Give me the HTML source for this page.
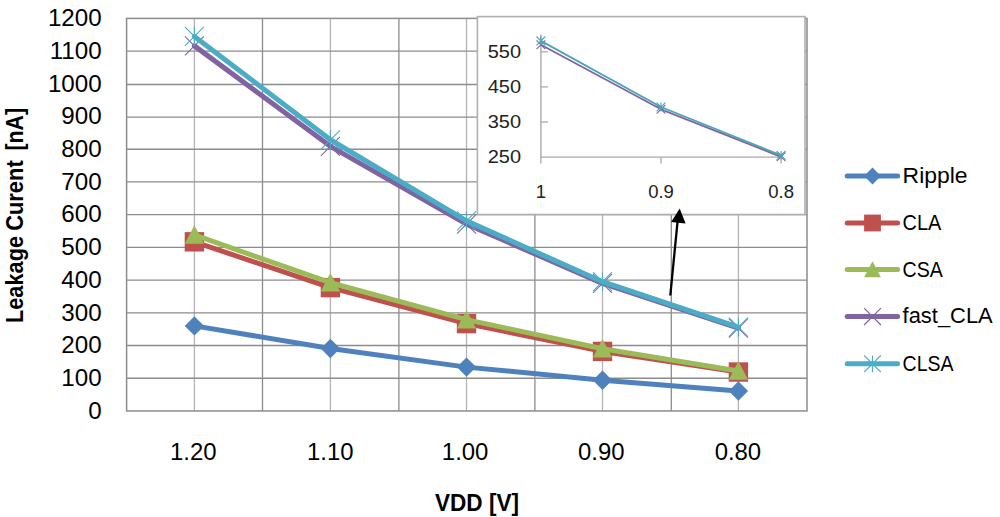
<!DOCTYPE html><html><head><meta charset="utf-8"><style>html,body{margin:0;padding:0;background:#fff;}svg{display:block;}text{font-family:"Liberation Sans",sans-serif;}</style></head><body>
<svg width="1000" height="517" viewBox="0 0 1000 517">
<rect width="1000" height="517" fill="#fff"/>
<line x1="194.40" y1="18.40" x2="194.40" y2="410.95" stroke="#b4b4b4" stroke-width="1.3"/>
<line x1="330.40" y1="18.40" x2="330.40" y2="410.95" stroke="#b4b4b4" stroke-width="1.3"/>
<line x1="466.50" y1="18.40" x2="466.50" y2="410.95" stroke="#b4b4b4" stroke-width="1.3"/>
<line x1="602.50" y1="18.40" x2="602.50" y2="410.95" stroke="#b4b4b4" stroke-width="1.3"/>
<line x1="738.40" y1="18.40" x2="738.40" y2="410.95" stroke="#b4b4b4" stroke-width="1.3"/>
<line x1="262.50" y1="18.40" x2="262.50" y2="410.95" stroke="#8c8c8c" stroke-width="1.3"/>
<line x1="398.90" y1="18.40" x2="398.90" y2="410.95" stroke="#8c8c8c" stroke-width="1.3"/>
<line x1="534.90" y1="18.40" x2="534.90" y2="410.95" stroke="#8c8c8c" stroke-width="1.3"/>
<line x1="671.30" y1="18.40" x2="671.30" y2="410.95" stroke="#8c8c8c" stroke-width="1.3"/>
<line x1="126.60" y1="378.24" x2="807.00" y2="378.24" stroke="#8c8c8c" stroke-width="1.3"/>
<line x1="126.60" y1="345.52" x2="807.00" y2="345.52" stroke="#8c8c8c" stroke-width="1.3"/>
<line x1="126.60" y1="312.81" x2="807.00" y2="312.81" stroke="#8c8c8c" stroke-width="1.3"/>
<line x1="126.60" y1="280.10" x2="807.00" y2="280.10" stroke="#8c8c8c" stroke-width="1.3"/>
<line x1="126.60" y1="247.39" x2="807.00" y2="247.39" stroke="#8c8c8c" stroke-width="1.3"/>
<line x1="126.60" y1="214.67" x2="807.00" y2="214.67" stroke="#8c8c8c" stroke-width="1.3"/>
<line x1="126.60" y1="181.96" x2="807.00" y2="181.96" stroke="#8c8c8c" stroke-width="1.3"/>
<line x1="126.60" y1="149.25" x2="807.00" y2="149.25" stroke="#8c8c8c" stroke-width="1.3"/>
<line x1="126.60" y1="117.20" x2="807.00" y2="117.20" stroke="#8c8c8c" stroke-width="1.3"/>
<line x1="126.60" y1="84.50" x2="807.00" y2="84.50" stroke="#8c8c8c" stroke-width="1.3"/>
<line x1="126.60" y1="51.11" x2="807.00" y2="51.11" stroke="#8c8c8c" stroke-width="1.3"/>
<rect x="126.60" y="18.40" width="680.40" height="392.55" fill="none" stroke="#8c8c8c" stroke-width="1.5"/>
<polyline points="194.40,325.90 330.40,348.47 466.50,367.12 602.50,380.20 738.40,391.00" fill="none" stroke="#4F81BD" stroke-width="5.0" stroke-linejoin="round" stroke-linecap="round"/>
<path d="M194.40 316.20L204.10 325.90L194.40 335.60L184.70 325.90Z" fill="#4F81BD"/>
<path d="M330.40 338.77L340.10 348.47L330.40 358.17L320.70 348.47Z" fill="#4F81BD"/>
<path d="M466.50 357.42L476.20 367.12L466.50 376.82L456.80 367.12Z" fill="#4F81BD"/>
<path d="M602.50 370.50L612.20 380.20L602.50 389.90L592.80 380.20Z" fill="#4F81BD"/>
<path d="M738.40 381.30L748.10 391.00L738.40 400.70L728.70 391.00Z" fill="#4F81BD"/>
<polyline points="194.40,241.83 330.40,287.62 466.50,323.61 602.50,351.41 738.40,372.02" fill="none" stroke="#C0504D" stroke-width="5.0" stroke-linejoin="round" stroke-linecap="round"/>
<rect x="184.70" y="232.13" width="19.40" height="19.40" fill="#C0504D"/>
<rect x="320.70" y="277.92" width="19.40" height="19.40" fill="#C0504D"/>
<rect x="456.80" y="313.91" width="19.40" height="19.40" fill="#C0504D"/>
<rect x="592.80" y="341.71" width="19.40" height="19.40" fill="#C0504D"/>
<rect x="728.70" y="362.32" width="19.40" height="19.40" fill="#C0504D"/>
<polyline points="194.40,234.96 330.40,282.72 466.50,319.68 602.50,348.80 738.40,371.04" fill="none" stroke="#9BBB59" stroke-width="5.0" stroke-linejoin="round" stroke-linecap="round"/>
<path d="M194.40 225.26L204.10 243.69L184.70 243.69Z" fill="#9BBB59"/>
<path d="M330.40 273.02L340.10 291.45L320.70 291.45Z" fill="#9BBB59"/>
<path d="M466.50 309.98L476.20 328.41L456.80 328.41Z" fill="#9BBB59"/>
<path d="M602.50 339.10L612.20 357.53L592.80 357.53Z" fill="#9BBB59"/>
<path d="M738.40 361.34L748.10 379.77L728.70 379.77Z" fill="#9BBB59"/>
<polyline points="194.40,45.88 330.40,146.31 466.50,224.16 602.50,283.37 738.40,328.19" fill="none" stroke="#8064A2" stroke-width="5.0" stroke-linejoin="round" stroke-linecap="round"/>
<path d="M184.90 36.38L203.90 55.38M203.90 36.38L184.90 55.38" stroke="#8064A2" stroke-width="1.05" fill="none"/>
<path d="M320.90 136.81L339.90 155.81M339.90 136.81L320.90 155.81" stroke="#8064A2" stroke-width="1.05" fill="none"/>
<path d="M457.00 214.66L476.00 233.66M476.00 214.66L457.00 233.66" stroke="#8064A2" stroke-width="1.05" fill="none"/>
<path d="M593.00 273.87L612.00 292.87M612.00 273.87L593.00 292.87" stroke="#8064A2" stroke-width="1.05" fill="none"/>
<path d="M728.90 318.69L747.90 337.69M747.90 318.69L728.90 337.69" stroke="#8064A2" stroke-width="1.05" fill="none"/>
<polyline points="194.40,36.39 330.40,139.76 466.50,220.89 602.50,281.74 738.40,327.21" fill="none" stroke="#4BACC6" stroke-width="5.0" stroke-linejoin="round" stroke-linecap="round"/>
<path d="M184.90 26.89L203.90 45.89M203.90 26.89L184.90 45.89M194.40 26.89L194.40 45.89" stroke="#4BACC6" stroke-width="1.05" fill="none"/>
<path d="M320.90 130.26L339.90 149.26M339.90 130.26L320.90 149.26M330.40 130.26L330.40 149.26" stroke="#4BACC6" stroke-width="1.05" fill="none"/>
<path d="M457.00 211.39L476.00 230.39M476.00 211.39L457.00 230.39M466.50 211.39L466.50 230.39" stroke="#4BACC6" stroke-width="1.05" fill="none"/>
<path d="M593.00 272.24L612.00 291.24M612.00 272.24L593.00 291.24M602.50 272.24L602.50 291.24" stroke="#4BACC6" stroke-width="1.05" fill="none"/>
<path d="M728.90 317.71L747.90 336.71M747.90 317.71L728.90 336.71M738.40 317.71L738.40 336.71" stroke="#4BACC6" stroke-width="1.05" fill="none"/>
<text transform="translate(101.6 419.05) scale(1.05 1)" font-size="23" text-anchor="end" fill="#000">0</text>
<text transform="translate(101.6 386.26) scale(1.05 1)" font-size="23" text-anchor="end" fill="#000">100</text>
<text transform="translate(101.6 353.48) scale(1.05 1)" font-size="23" text-anchor="end" fill="#000">200</text>
<text transform="translate(101.6 320.69) scale(1.05 1)" font-size="23" text-anchor="end" fill="#000">300</text>
<text transform="translate(101.6 287.90) scale(1.05 1)" font-size="23" text-anchor="end" fill="#000">400</text>
<text transform="translate(101.6 255.11) scale(1.05 1)" font-size="23" text-anchor="end" fill="#000">500</text>
<text transform="translate(101.6 222.32) scale(1.05 1)" font-size="23" text-anchor="end" fill="#000">600</text>
<text transform="translate(101.6 189.54) scale(1.05 1)" font-size="23" text-anchor="end" fill="#000">700</text>
<text transform="translate(101.6 156.75) scale(1.05 1)" font-size="23" text-anchor="end" fill="#000">800</text>
<text transform="translate(101.6 123.96) scale(1.05 1)" font-size="23" text-anchor="end" fill="#000">900</text>
<text transform="translate(101.6 91.77) scale(1.05 1)" font-size="23" text-anchor="end" fill="#000">1000</text>
<text transform="translate(101.6 58.99) scale(1.05 1)" font-size="23" text-anchor="end" fill="#000">1100</text>
<text transform="translate(101.6 25.60) scale(1.05 1)" font-size="23" text-anchor="end" fill="#000">1200</text>
<text transform="translate(193.30 459.8) scale(1.04 1)" font-size="23" text-anchor="middle" fill="#000">1.20</text>
<text transform="translate(330.30 459.8) scale(1.04 1)" font-size="23" text-anchor="middle" fill="#000">1.10</text>
<text transform="translate(465.10 459.8) scale(1.04 1)" font-size="23" text-anchor="middle" fill="#000">1.00</text>
<text transform="translate(601.30 459.8) scale(1.04 1)" font-size="23" text-anchor="middle" fill="#000">0.90</text>
<text transform="translate(737.90 459.8) scale(1.04 1)" font-size="23" text-anchor="middle" fill="#000">0.80</text>
<text x="477" y="511" font-size="23" font-weight="bold" text-anchor="middle" textLength="84" lengthAdjust="spacingAndGlyphs">VDD [V]</text>
<text transform="translate(23.2 323.0) rotate(-90)" x="0" y="0" font-size="23" font-weight="bold" textLength="87.0" lengthAdjust="spacingAndGlyphs">Leakage</text>
<text transform="translate(23.2 230.8) rotate(-90)" x="0" y="0" font-size="23" font-weight="bold" textLength="70.5" lengthAdjust="spacingAndGlyphs">Curent</text>
<text transform="translate(23.2 150.6) rotate(-90)" x="0" y="0" font-size="23" font-weight="bold" textLength="42.6" lengthAdjust="spacingAndGlyphs">[nA]</text>
<rect x="477.4" y="16.6" width="327.60" height="197.90" fill="#fff" stroke="#b0b0b0" stroke-width="1.6"/>
<line x1="540.9" y1="34.6" x2="540.9" y2="157.1" stroke="#aaaaaa" stroke-width="1.4"/>
<line x1="540.9" y1="157.1" x2="781.1" y2="157.1" stroke="#aaaaaa" stroke-width="1.4"/>
<line x1="540.9" y1="122.00" x2="547.9" y2="122.00" stroke="#aaaaaa" stroke-width="1.3"/>
<line x1="540.9" y1="86.90" x2="547.9" y2="86.90" stroke="#aaaaaa" stroke-width="1.3"/>
<line x1="540.9" y1="51.80" x2="547.9" y2="51.80" stroke="#aaaaaa" stroke-width="1.3"/>
<line x1="540.9" y1="157.1" x2="540.9" y2="163.6" stroke="#aaaaaa" stroke-width="1.3"/>
<line x1="661.0" y1="157.1" x2="661.0" y2="163.6" stroke="#aaaaaa" stroke-width="1.3"/>
<line x1="781.1" y1="157.1" x2="781.1" y2="163.6" stroke="#aaaaaa" stroke-width="1.3"/>
<text transform="translate(521.1 163.40) scale(1.08 1)" font-size="18.5" text-anchor="end" fill="#222">250</text>
<text transform="translate(521.1 128.30) scale(1.08 1)" font-size="18.5" text-anchor="end" fill="#222">350</text>
<text transform="translate(521.1 93.20) scale(1.08 1)" font-size="18.5" text-anchor="end" fill="#222">450</text>
<text transform="translate(521.1 58.10) scale(1.08 1)" font-size="18.5" text-anchor="end" fill="#222">550</text>
<text x="540.90" y="197.6" font-size="18.5" text-anchor="middle" fill="#222">1</text>
<text x="661.00" y="197.6" font-size="18.5" text-anchor="middle" fill="#222">0.9</text>
<text x="781.10" y="197.6" font-size="18.5" text-anchor="middle" fill="#222">0.8</text>
<polyline points="540.90,44.80 661.00,109.30 781.10,156.80" fill="none" stroke="#8064A2" stroke-width="1.8" stroke-linejoin="round"/>
<path d="M536.50 40.40L545.30 49.20M545.30 40.40L536.50 49.20" stroke="#8064A2" stroke-width="1.1" fill="none"/>
<path d="M656.60 104.90L665.40 113.70M665.40 104.90L656.60 113.70" stroke="#8064A2" stroke-width="1.1" fill="none"/>
<path d="M776.70 152.40L785.50 161.20M785.50 152.40L776.70 161.20" stroke="#8064A2" stroke-width="1.1" fill="none"/>
<polyline points="540.90,40.90 661.00,107.00 781.10,155.40" fill="none" stroke="#4aa6b8" stroke-width="1.8" stroke-linejoin="round"/>
<path d="M536.50 36.50L545.30 45.30M545.30 36.50L536.50 45.30M540.90 36.50L540.90 45.30" stroke="#4aa6b8" stroke-width="1.1" fill="none"/>
<path d="M656.60 102.60L665.40 111.40M665.40 102.60L656.60 111.40M661.00 102.60L661.00 111.40" stroke="#4aa6b8" stroke-width="1.1" fill="none"/>
<path d="M776.70 151.00L785.50 159.80M785.50 151.00L776.70 159.80M781.10 151.00L781.10 159.80" stroke="#4aa6b8" stroke-width="1.1" fill="none"/>
<line x1="670.3" y1="295.5" x2="677.6" y2="221" stroke="#000" stroke-width="2.3"/>
<path d="M679.7 208.4L685.6 223.6L671.2 222Z" fill="#000"/>
<line x1="847.2" y1="176.0" x2="897.6" y2="176.0" stroke="#4F81BD" stroke-width="5" stroke-linecap="round"/>
<path d="M872.50 167.60L880.90 176.00L872.50 184.40L864.10 176.00Z" fill="#4F81BD"/>
<text x="902.6" y="183.2" font-size="22.5" textLength="65.0" lengthAdjust="spacingAndGlyphs" fill="#000">Ripple</text>
<line x1="847.2" y1="223.0" x2="897.6" y2="223.0" stroke="#C0504D" stroke-width="5" stroke-linecap="round"/>
<rect x="864.10" y="214.60" width="16.80" height="16.80" fill="#C0504D"/>
<text x="902.6" y="230.4" font-size="22.5" textLength="38.7" lengthAdjust="spacingAndGlyphs" fill="#000">CLA</text>
<line x1="847.2" y1="269.6" x2="897.6" y2="269.6" stroke="#9BBB59" stroke-width="5" stroke-linecap="round"/>
<path d="M872.50 261.20L880.90 277.16L864.10 277.16Z" fill="#9BBB59"/>
<text x="902.6" y="276.8" font-size="22.5" textLength="40.3" lengthAdjust="spacingAndGlyphs" fill="#000">CSA</text>
<line x1="847.2" y1="316.6" x2="897.6" y2="316.6" stroke="#8064A2" stroke-width="5" stroke-linecap="round"/>
<path d="M864.10 308.20L880.90 325.00M880.90 308.20L864.10 325.00" stroke="#8064A2" stroke-width="1.2" fill="none"/>
<text x="902.6" y="323.4" font-size="22.5" textLength="90.1" lengthAdjust="spacingAndGlyphs" fill="#000">fast_CLA</text>
<line x1="847.2" y1="363.8" x2="897.6" y2="363.8" stroke="#4BACC6" stroke-width="5" stroke-linecap="round"/>
<path d="M864.10 355.40L880.90 372.20M880.90 355.40L864.10 372.20M872.50 355.40L872.50 372.20" stroke="#4BACC6" stroke-width="1.2" fill="none"/>
<text x="902.6" y="371.2" font-size="22.5" textLength="50.9" lengthAdjust="spacingAndGlyphs" fill="#000">CLSA</text>
</svg></body></html>
